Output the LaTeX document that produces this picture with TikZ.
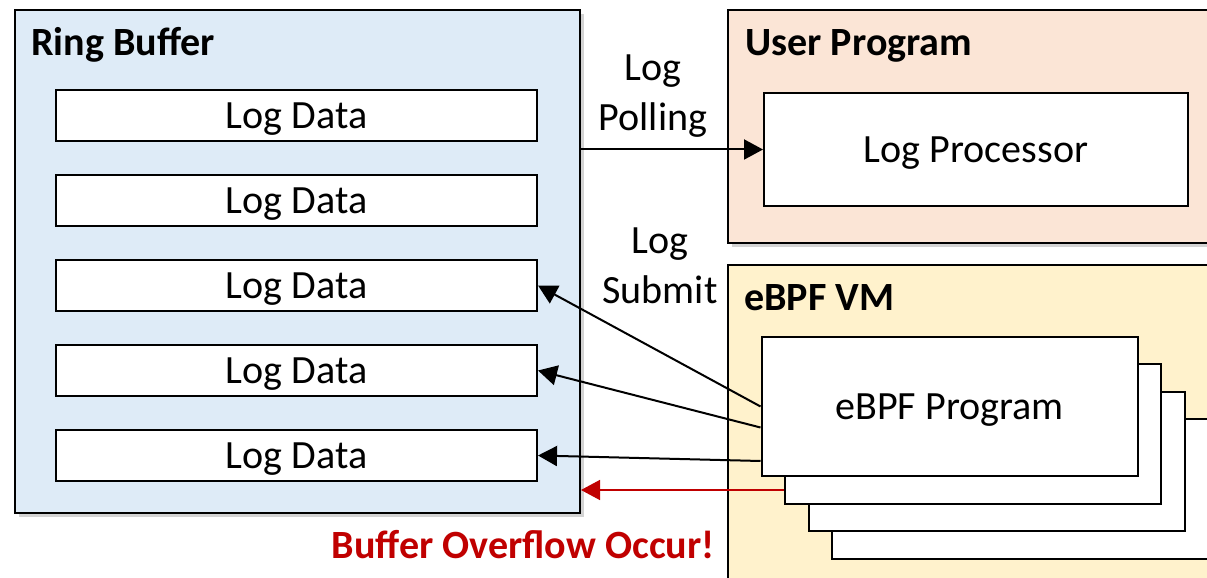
\documentclass[tikz,border=0pt]{standalone}
\usepackage{fontspec}
\setmainfont{Carlito}
\usepackage{tikz}
\usetikzlibrary{positioning,arrows.meta,shadows}
\definecolor{bufblue}{HTML}{DEEBF7}
\definecolor{userpeach}{HTML}{FBE5D6}
\definecolor{vmyellow}{HTML}{FFF2CC}
\definecolor{alertred}{HTML}{C00000}
\tikzstyle{container} = [
draw=black,
line width=0.04cm,
rectangle,
anchor=center,
drop shadow={shadow xshift=0.08cm,shadow yshift=-0.08cm,opacity=0.35}
]
\tikzstyle{arrow} = [
line width=0.04cm,
-{Triangle[length=0.38cm,width=0.4cm]}
]

\begin{document}
\begin{tikzpicture}[
			font=\fontsize{22.8pt}{28.5pt}\selectfont,
			logbox/.style={
				draw,
				fill=white,
				line width=0.04cm,
				rectangle,
				minimum width=9.62cm,
				minimum height=1.02cm,
				text depth=0pt,
				inner sep=0pt
			},
			progbox/.style={
				draw,
				fill=white,
				line width=0.04cm,
				rectangle,
				minimum width=7.52cm,
				minimum height=2.78cm,
				text depth=0pt,
				inner sep=0pt
			},
			title/.style={
				font=\fontsize{22.8pt}{28.5pt}\selectfont\bfseries,
				anchor=base west,
				inner sep=0pt
			},
			tag/.style={
				align=center,
				inner sep=0pt
			}
			]
			\useasboundingbox (0,0) rectangle (24.14,-11.56);
			
			% Containers
			\node[container, fill=bufblue, minimum width=11.3cm, minimum height=10.06cm] (ringbuf) at (5.95,-5.23) {};
			\node[container, fill=userpeach, minimum width=9.88cm, minimum height=4.66cm] (userprog) at (19.5,-2.53) {};
			\node[container, fill=vmyellow, minimum width=9.88cm, minimum height=6.7cm] (ebpfvm) at (19.5,-8.65) {};
			
			% Titles
			\node[title] (rbtitle) at ([xshift=0.34cm,yshift=-0.94cm]ringbuf.north west) {Ring Buffer};
			\node[title] (uptitle) at ([xshift=0.36cm,yshift=-0.94cm]userprog.north west) {User Program};
			\node[title] (vmtitle) at ([xshift=0.34cm,yshift=-0.94cm]ebpfvm.north west) {eBPF VM};
			
			% Nodes
			\node[logbox] (log1) at (5.93,-2.31) {Log Data};
			\node[logbox, below=0.64cm of log1] (log2) {Log Data};
			\node[logbox, below=0.64cm of log2] (log3) {Log Data};
			\node[logbox, below=0.64cm of log3] (log4) {Log Data};
			\node[logbox, below=0.64cm of log4] (log5) {Log Data};
			\node[logbox, minimum width=8.48cm, minimum height=2.26cm] (proc) at (19.52,-2.99) {Log Processor};
			
			\coordinate (progc) at (18.99,-8.13);
			\node[progbox] (prog3) at ([shift={(1.41,-1.65)}]progc) {};
			\node[progbox] (prog2) at ([shift={(0.94,-1.1)}]progc) {};
			\node[progbox] (prog1) at ([shift={(0.47,-0.55)}]progc) {};
			\node[progbox] (prog) at (progc) {eBPF Program};
			
			% Labels
			\node[tag] (polling) at (13.06,-1.92) {Log\\Polling};
			\node[tag] (submit) at (13.2,-5.32) {Log\\Submit};
			\node[title, anchor=base east, text=alertred] (overflow) at ([xshift=2.68cm,yshift=-0.88cm]ringbuf.south east) {Buffer Overflow Occur!};
			
			% Arrows
			\draw[arrow] (proc.west -| ringbuf.east) -- (proc.west);
			\draw[arrow] (prog.west) -- (log3.east);
			\draw[arrow] ([yshift=-0.42cm]prog.west) -- (log4.east);
			\draw[arrow] ([yshift=0.32cm]prog.south west) -- (log5.east);
			\coordinate (overstart) at ([yshift=0.29cm]prog1.south west);
			\draw[arrow, alertred, line width=0.03cm] (overstart) -- (overstart -| ringbuf.east);
			
		\end{tikzpicture}
\end{document}
